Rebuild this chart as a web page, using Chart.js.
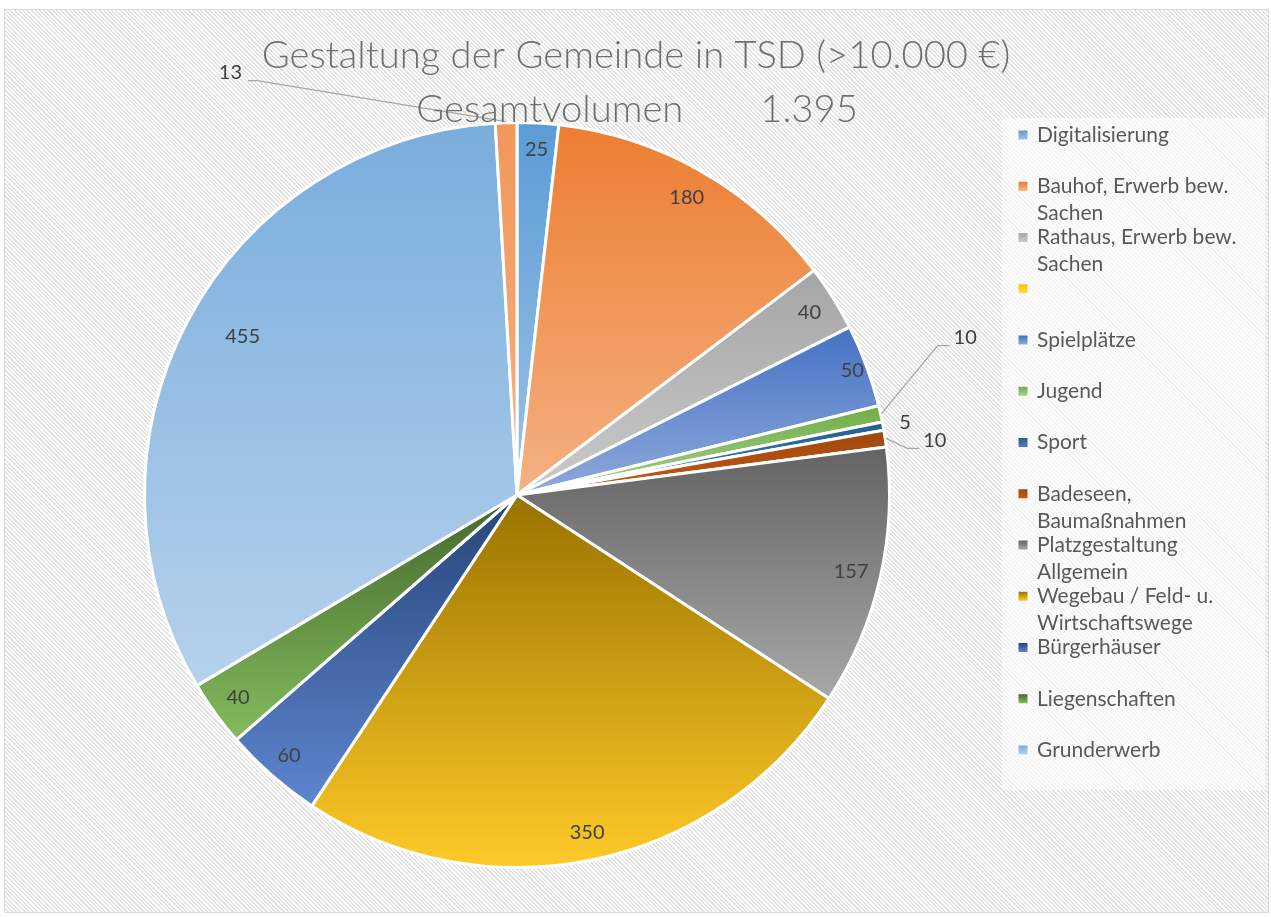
<!DOCTYPE html>
<html lang="de">
<head>
<meta charset="utf-8">
<title>Gestaltung der Gemeinde in TSD</title>
<script src="https://cdn.jsdelivr.net/npm/chart.js@4.4.1/dist/chart.umd.min.js"></script>
<style>
  html, body { margin: 0; padding: 0; background: #fff; }
  #wrap { position: relative; width: 1271px; height: 917px; overflow: hidden; }
  #frame {
    position: absolute; left: 4px; top: 9px; width: 1263px; height: 902px;
    border: 1px solid #d9d9d9;
    background: repeating-linear-gradient(45deg, #ffffff 0px, #ffffff 1.5px, #e3e3e3 1.5px, #e3e3e3 3px);
  }
  #gemeindeChart { position: absolute; left: 0; top: 0; }
</style>
</head>
<body>
<div id="wrap">
  <div id="frame"></div>
  <canvas id="gemeindeChart" width="1271" height="917"></canvas>
</div>
<script>
// Daten (in TSD €)
const titleText = "Gestaltung der Gemeinde in TSD (>10.000 €)";
const totalLabel = "Gesamtvolumen";
const totalValue = "1.395";

const categories = [
  "Digitalisierung",
  "Bauhof, Erwerb bew. Sachen",
  "Rathaus, Erwerb bew. Sachen",
  "",
  "Spielplätze",
  "Jugend",
  "Sport",
  "Badeseen, Baumaßnahmen",
  "Platzgestaltung Allgemein",
  "Wegebau / Feld- u. Wirtschaftswege",
  "Bürgerhäuser",
  "Liegenschaften",
  "Grunderwerb",
  ""
];
const values = [25, 180, 40, 0, 50, 10, 5, 10, 157, 350, 60, 40, 455, 13];

// Farben: oben -> unten (Verlauf je Segment)
const topColors = ["#5b9bd5", "#ed7d31", "#a5a5a5", "#ffc000", "#4472c4", "#70ad47",
  "#255e91", "#9e480e", "#636363", "#997300", "#264478", "#43682b", "#79addc", "#f1975a"];
const bottomColors = ["#9dc3e6", "#f4b183", "#cacaca", "#ffd966", "#8faadc", "#a9d18e",
  "#4a7fb5", "#c55a11", "#a8a8a8", "#ffca28", "#5e86d0", "#85bc5e", "#b6d2ec", "#f4b183"];

const legendCount = 13; // Excel zeigt nur die ersten 13 Einträge

// Beschriftungen: r = Anteil vom Radius, sonst Führungslinie
const labelPlacement = [
  { r: 0.93 }, { r: 0.92 }, { r: 0.925 }, null, { r: 0.96 },
  { elbow: [56, -68], run: 12 },
  { r: 1.06 },
  { elbow: [21, 10], run: 12 },
  { r: 0.92 }, { r: 0.925 }, { r: 0.93 }, { r: 0.925 }, { r: 0.85, turn: 0.035 },
  { elbow: [-249, -41], run: -9 }
];

function sliceFill(context) {
  const i = context.dataIndex;
  const chart = context.chart;
  const area = chart.chartArea;
  if (!area || context.type !== "data") return topColors[i];
  const cx = (area.left + area.right) / 2;
  const cy = (area.top + area.bottom) / 2;
  const r = Math.min(area.width, area.height) / 2;
  const total = values.reduce((a, b) => a + b, 0);
  const before = values.slice(0, i).reduce((a, b) => a + b, 0);
  const a0 = before / total * Math.PI * 2 - Math.PI / 2;
  const a1 = (before + values[i]) / total * Math.PI * 2 - Math.PI / 2;
  const ys = [cy, cy + r * Math.sin(a0), cy + r * Math.sin(a1)];
  if (a0 <= -Math.PI / 2 + 1e-6) ys.push(cy - r);
  if (a0 <= Math.PI / 2 && a1 >= Math.PI / 2) ys.push(cy + r);
  if (a0 <= Math.PI * 1.5 && a1 >= Math.PI * 1.5) ys.push(cy - r);
  const top = Math.min(...ys);
  let bottom = Math.max(...ys);
  if (bottom - top < 1) bottom = top + 1;
  const g = chart.ctx.createLinearGradient(0, top, 0, bottom);
  g.addColorStop(0, topColors[i]);
  g.addColorStop(1, bottomColors[i]);
  return g;
}

function wrapText(ctx, text, maxW) {
  const words = text.split(" ");
  const lines = [];
  let cur = "";
  words.forEach(w => {
    const test = cur ? cur + " " + w : w;
    if (cur && ctx.measureText(test).width > maxW) {
      lines.push(cur);
      cur = w;
    } else {
      cur = test;
    }
  });
  lines.push(cur);
  return lines;
}

const excelLook = {
  id: "excelLook",
  beforeDraw(chart) {
    const ctx = chart.ctx;
    ctx.save();
    ctx.fillStyle = "rgba(255,255,255,0.6)";
    ctx.fillRect(1002, 118, 263, 672);
    ctx.restore();
  },
  afterDatasetsDraw(chart) {
    const ctx = chart.ctx;
    const meta = chart.getDatasetMeta(0);
    ctx.save();
    ctx.font = "20px Lato";
    ctx.fillStyle = "#404040";
    ctx.strokeStyle = "#a6a6a6";
    ctx.lineWidth = 1.3;
    meta.data.forEach((arc, i) => {
      const p = labelPlacement[i];
      if (!p || !values[i]) return;
      const { x, y, startAngle, endAngle, outerRadius } =
        arc.getProps(["x", "y", "startAngle", "endAngle", "outerRadius"], true);
      const mid = (startAngle + endAngle) / 2 + (p.turn || 0);
      const txt = String(values[i]);
      if (p.r) {
        ctx.textAlign = "center";
        ctx.textBaseline = "middle";
        ctx.fillText(txt, x + Math.cos(mid) * outerRadius * p.r, y + Math.sin(mid) * outerRadius * p.r);
        return;
      }
      const ax = x + Math.cos(mid) * (outerRadius + 1);
      const ay = y + Math.sin(mid) * (outerRadius + 1);
      const ex = ax + p.elbow[0], ey = ay + p.elbow[1];
      const lx = ex + p.run;
      ctx.beginPath();
      ctx.moveTo(ax, ay);
      ctx.lineTo(ex, ey);
      ctx.lineTo(lx, ey);
      ctx.stroke();
      ctx.textBaseline = "middle";
      if (p.run > 0) {
        ctx.textAlign = "left";
        ctx.fillText(txt, lx + 4, ey - 8);
      } else {
        ctx.textAlign = "right";
        ctx.fillText(txt, lx - 6, ey - 8);
      }
    });
    ctx.restore();
  },
  afterDraw(chart) {
    const ctx = chart.ctx;
    ctx.save();
    // Titel
    ctx.fillStyle = "#6f6f6f";
    ctx.textBaseline = "alphabetic";
    ctx.font = "300 40px Lato";
    const size = 40 * 748 / ctx.measureText(titleText).width;
    ctx.font = "300 " + size.toFixed(1) + "px Lato";
    ctx.textAlign = "center";
    ctx.fillText(titleText, 636, 68);
    const w1 = ctx.measureText(totalLabel).width;
    const w2 = ctx.measureText(totalValue).width;
    const gap = 77;
    const sx = 637 - (w1 + gap + w2) / 2;
    ctx.textAlign = "left";
    ctx.fillText(totalLabel, sx, 122);
    ctx.fillText(totalValue, sx + w1 + gap, 122);

    // Legende
    ctx.font = "21px Lato";
    ctx.fillStyle = "#595959";
    ctx.textBaseline = "middle";
    ctx.textAlign = "left";
    for (let i = 0; i < legendCount; i++) {
      const yy = 135 + i * 51.25;
      const g = ctx.createLinearGradient(0, yy - 4.5, 0, yy + 4.5);
      g.addColorStop(0, topColors[i]);
      g.addColorStop(1, bottomColors[i]);
      ctx.fillStyle = g;
      ctx.fillRect(1018.5, yy - 4.5, 9, 9);
      ctx.fillStyle = "#595959";
      wrapText(ctx, categories[i], 222).forEach((line, j) => {
        if (line) ctx.fillText(line, 1037, yy + j * 27);
      });
    }
    ctx.restore();
  }
};

new Chart(document.getElementById("gemeindeChart"), {
  type: "pie",
  data: {
    labels: categories,
    datasets: [{
      data: values,
      backgroundColor: sliceFill,
      borderColor: "#ffffff",
      borderWidth: 3
    }]
  },
  options: {
    responsive: false,
    animation: false,
    events: [],
    layout: { padding: { top: 121, bottom: 48, left: 143, right: 380 } },
    plugins: {
      legend: { display: false },
      title: { display: false },
      tooltip: { enabled: false }
    }
  },
  plugins: [excelLook]
});
</script>
</body>
</html>
